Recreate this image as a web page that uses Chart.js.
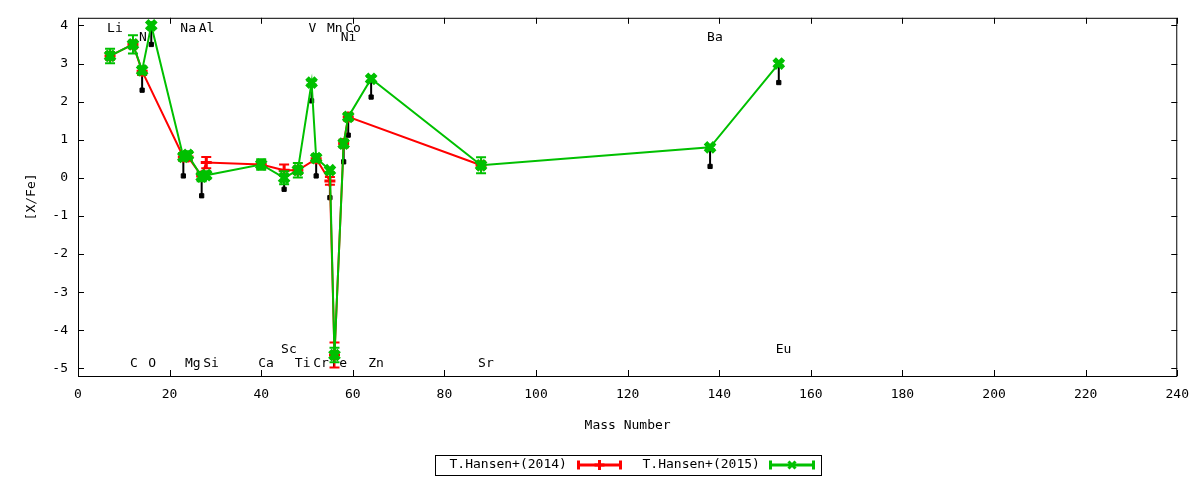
<!DOCTYPE html>
<html>
<head>
<meta charset="utf-8">
<script src="https://cdn.jsdelivr.net/npm/chart.js@4.4.1/dist/chart.umd.min.js"></script>
<style>
  html, body { margin: 0; padding: 0; background: #fff; }
</style>
</head>
<body>
<canvas id="abund" width="1200" height="480"></canvas>
<script>
// element labels (placed at their mass number)
const elements  = ['Li','C','N','O','Na','Mg','Al','Si','Ca','Sc','Ti','V','Cr','Mn','Fe','Ni','Co','Zn','Sr','Ba','Eu'];
const elemMass  = [7,12,14,16,23,24,27,28,40,45,48,51,52,55,56,58,59,64,88,138,153];
const elemLabelY = [3.92,-4.87,3.67,-4.87,3.92,-4.87,3.92,-4.87,-4.87,-4.5,-4.87,3.92,-4.87,3.92,-4.87,3.67,3.92,-4.87,-4.87,3.67,-4.5];

// T.Hansen+(2014)
const h14Mass = [7,12,14,23,24,27,28,40,45,48,52,55,56,58,59,88];
const h14Val  = [3.2,3.5,2.8,0.55,0.55,0.05,0.4,0.35,0.2,0.2,0.5,-0.08,-4.65,0.9,1.6,0.33];
const h14Err  = [0.1,0.1,0.1,0.1,0.1,0.1,0.15,0.1,0.15,0.1,0.1,0.1,0.33,0.1,0.1,0.1];

// T.Hansen+(2015)
const h15Mass = [7,12,14,16,23,24,27,28,40,45,48,51,52,55,56,58,59,64,88,138,153];
const h15Val  = [3.2,3.5,2.82,4.0,0.55,0.6,0.03,0.07,0.35,0.0,0.2,2.5,0.52,0.2,-4.65,0.9,1.6,2.6,0.33,0.8,3.0];
const h15Err  = [0.19,0.24,0.1,0.08,0.1,0.1,0.12,0.1,0.14,0.17,0.19,0.05,0.1,0.05,0.19,0.1,0.08,0.05,0.21,0.05,0.05];

// upper-limit arrows
const arrowMass   = [14,16,23,27,45,51,52,55,58,59,64,138,153];
const arrowTop    = [2.8,4.0,0.55,0.03,0.0,2.5,0.52,-0.08,0.9,1.6,2.6,0.8,3.0];
const arrowBottom = [2.3,3.5,0.05,-0.47,-0.3,2.02,0.05,-0.52,0.42,1.12,2.12,0.3,2.5];

const xTicks = [0,20,40,60,80,100,120,140,160,180,200,220,240];
const yTicks = [-5,-4,-3,-2,-1,0,1,2,3,4];

const RED = '#ff0000', GREEN = '#00c000';
const FONT = "'DejaVu Sans Mono', monospace";

Chart.defaults.font.family = FONT;
Chart.defaults.font.size = 13;
Chart.defaults.color = '#000';

const pts = (xs, ys) => xs.map((x, i) => ({x, y: ys[i]}));

const arrowPts = [];
arrowMass.forEach((m, i) => {
  arrowPts.push({x: m, y: arrowTop[i]}, {x: m, y: arrowBottom[i]}, {x: m, y: null});
});

const errorBars = {
  id: 'errorBars',
  afterDatasetDraw(chart, args) {
    const ds = chart.data.datasets[args.index];
    if (!ds.errors) return;
    const {x: xs, y: ys} = chart.scales;
    const ctx = chart.ctx;
    ctx.save();
    ctx.strokeStyle = ds.borderColor;
    ctx.lineWidth = 2;
    ds.data.forEach((p, i) => {
      const px = xs.getPixelForValue(p.x);
      const top = ys.getPixelForValue(p.y + ds.errors[i]);
      const bot = ys.getPixelForValue(p.y - ds.errors[i]);
      ctx.beginPath();
      ctx.moveTo(px, top); ctx.lineTo(px, bot);
      ctx.moveTo(px - 5, top); ctx.lineTo(px + 5, top);
      ctx.moveTo(px - 5, bot); ctx.lineTo(px + 5, bot);
      ctx.stroke();
    });
    ctx.restore();
  }
};

const elemLabels = {
  id: 'elemLabels',
  beforeDatasetsDraw(chart) {
    const {x: xs, y: ys} = chart.scales;
    const ctx = chart.ctx;
    ctx.save();
    ctx.font = '13px ' + FONT;
    ctx.fillStyle = '#000';
    ctx.textAlign = 'left';
    ctx.textBaseline = 'middle';
    elements.forEach((el, i) => {
      ctx.fillText(el, xs.getPixelForValue(elemMass[i]) - 3, ys.getPixelForValue(elemLabelY[i]));
    });
    ctx.restore();
  }
};

const frame = {
  id: 'frame',
  afterDraw(chart) {
    const {left, right, top, bottom} = chart.chartArea;
    const {x: xs, y: ys} = chart.scales;
    const ctx = chart.ctx;
    ctx.save();
    ctx.strokeStyle = '#000';
    ctx.lineWidth = 1;
    ctx.strokeRect(left + 0.5, top + 0.5, right - left - 1, bottom - top);
    ctx.beginPath();
    xTicks.forEach(v => {
      const p = Math.round(xs.getPixelForValue(v)) + 0.5;
      ctx.moveTo(p, bottom); ctx.lineTo(p, bottom - 6);
      ctx.moveTo(p, top); ctx.lineTo(p, top + 6);
    });
    yTicks.forEach(v => {
      const p = Math.round(ys.getPixelForValue(v)) + 0.5;
      ctx.moveTo(left, p); ctx.lineTo(left + 6, p);
      ctx.moveTo(right, p); ctx.lineTo(right - 6, p);
    });
    ctx.stroke();

    // legend
    const cx = (left + right) / 2;
    const bx = Math.round(cx - 193) + 0.5, by = 455.5, ly = 465;
    ctx.strokeRect(bx, by, 386, 20);
    ctx.font = '13px ' + FONT;
    ctx.textBaseline = 'middle';
    ctx.textAlign = 'left';
    const sample = (tx, sx0, sx1, color, style, radius, bw, text) => {
      ctx.fillStyle = '#000';
      ctx.fillText(text, tx, ly);
      ctx.strokeStyle = color;
      ctx.fillStyle = color;
      ctx.lineWidth = 3;
      ctx.beginPath();
      ctx.moveTo(sx0, ly); ctx.lineTo(sx1, ly);
      ctx.moveTo(sx0, ly - 4.5); ctx.lineTo(sx0, ly + 4.5);
      ctx.moveTo(sx1, ly - 4.5); ctx.lineTo(sx1, ly + 4.5);
      ctx.stroke();
      Chart.helpers.drawPoint(ctx, {pointStyle: style, radius, borderWidth: bw}, (sx0 + sx1) / 2, ly);
    };
    sample(bx + 14, bx + 143, bx + 185, RED, 'cross', 5, 3, 'T.Hansen+(2014)');
    sample(bx + 207, bx + 335, bx + 378, GREEN, 'crossRot', 5, 4, 'T.Hansen+(2015)');
    ctx.restore();
  }
};

new Chart(document.getElementById('abund'), {
  type: 'line',
  data: {
    datasets: [
      {
        label: 'T.Hansen+(2015)',
        data: pts(h15Mass, h15Val),
        errors: h15Err,
        borderColor: GREEN,
        backgroundColor: GREEN,
        borderWidth: 2,
        pointStyle: 'crossRot',
        pointRadius: 6.5,
        pointBorderWidth: 5,
        order: 0
      },
      {
        label: 'T.Hansen+(2014)',
        data: pts(h14Mass, h14Val),
        errors: h14Err,
        borderColor: RED,
        backgroundColor: RED,
        borderWidth: 2,
        pointStyle: 'cross',
        pointRadius: 5.5,
        pointBorderWidth: 3,
        order: 1
      },
      {
        label: 'limits',
        data: arrowPts,
        borderColor: '#000',
        backgroundColor: '#000',
        borderWidth: 2,
        spanGaps: false,
        pointStyle: 'rect',
        pointRadius: c => (c.dataIndex % 3 === 1 ? 3 : 0),
        pointBorderWidth: 1,
        order: 2
      }
    ]
  },
  options: {
    responsive: false,
    devicePixelRatio: 1,
    animation: false,
    layout: { padding: { left: 0, right: 22, top: 17, bottom: 44 } },
    plugins: { legend: { display: false }, tooltip: { enabled: false } },
    scales: {
      x: {
        type: 'linear', min: 0, max: 240,
        afterBuildTicks: s => { s.ticks = xTicks.map(v => ({value: v})); },
        afterFit: s => { s.height = 60; },
        grid: { display: false, drawTicks: false },
        border: { display: false },
        ticks: { padding: 11, maxRotation: 0, autoSkip: false },
        title: { display: true, text: 'Mass Number', padding: { top: 4, bottom: 3 } }
      },
      y: {
        type: 'linear', min: -5.2, max: 4.2,
        afterBuildTicks: s => { s.ticks = yTicks.map(v => ({value: v})); },
        afterFit: s => { s.width = 78; },
        grid: { display: false, drawTicks: false },
        border: { display: false },
        ticks: { padding: 10 },
        title: { display: true, text: '[X/Fe]', padding: { top: 24, bottom: 0 } }
      }
    }
  },
  plugins: [errorBars, elemLabels, frame]
});
</script>
</body>
</html>
